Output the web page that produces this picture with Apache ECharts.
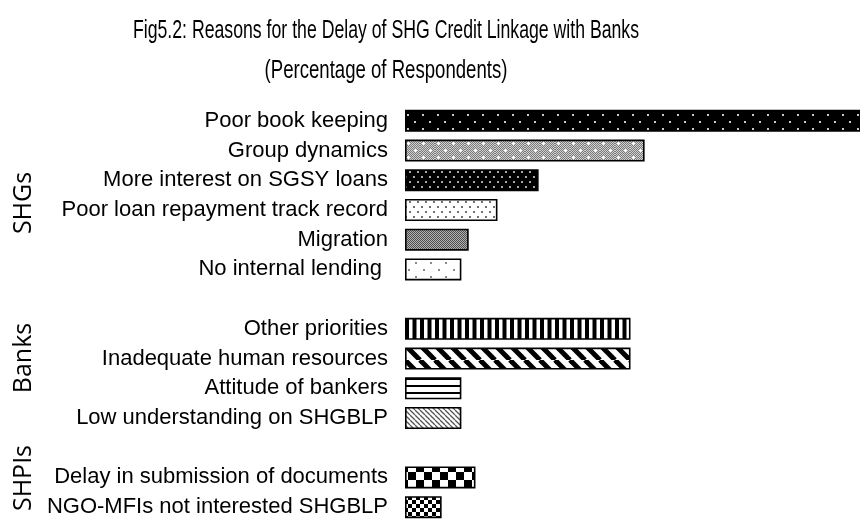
<!DOCTYPE html>
<html>
<head>
<meta charset="utf-8">
<script src="https://cdn.jsdelivr.net/npm/echarts@6/dist/echarts.min.js"></script>
<style>
  html, body { margin: 0; padding: 0; background: #fff; }
  #chart { width: 860px; height: 522px; }
</style>
</head>
<body>
<div id="chart"></div>
<script>
// Reasons for delay, grouped by respondent type (blank rows separate the groups)
const categories = [
  'Poor book keeping',
  'Group dynamics',
  'More interest on SGSY loans',
  'Poor loan repayment track record',
  'Migration',
  'No internal lending ',
  '',
  'Other priorities',
  'Inadequate human resources',
  'Attitude of bankers',
  'Low understanding on SHGBLP',
  '',
  'Delay in submission of documents',
  'NGO-MFIs not interested SHGBLP'
];

// Percentage of respondents
const values = [85, 42.5, 23.7, 16.4, 11.3, 10, null, 40, 40, 10, 10, null, 12.5, 6.5];

// Group names shown on the left
const groups = ['SHGs', 'Banks', 'SHPIs'];

const titleLines = [
  'Fig5.2: Reasons for the Delay of SHG Credit Linkage with Banks',
  '(Percentage of Respondents)'
];

// ---- fill patterns ----
function tile(w, h, draw) {
  const c = document.createElement('canvas');
  c.width = w; c.height = h;
  const g = c.getContext('2d');
  draw(g, w, h);
  return c;
}
function dots(bg, fg, w, h, pts, s) {
  return tile(w, h, (g) => {
    g.fillStyle = bg; g.fillRect(0, 0, w, h);
    g.fillStyle = fg;
    pts.forEach(p => g.fillRect(p[0], p[1], s, s));
  });
}
function checker(a, b, s) {
  return tile(s * 2, s * 2, (g) => {
    g.fillStyle = a; g.fillRect(0, 0, s * 2, s * 2);
    g.fillStyle = b; g.fillRect(0, 0, s, s); g.fillRect(s, s, s, s);
  });
}
function diag(bg, fg, w, lw) {
  return tile(w, w, (g) => {
    g.fillStyle = bg; g.fillRect(0, 0, w, w);
    g.strokeStyle = fg; g.lineWidth = lw;
    for (let k = -1; k <= 1; k++) {
      g.beginPath();
      g.moveTo(k * w, 0);
      g.lineTo(k * w + w, w);
      g.stroke();
    }
  });
}

const patterns = [
  dots('#000', '#c8c8c8', 15, 14, [[2, 2], [9, 9]], 2),
  tile(15, 14, (g) => {
    for (let y = 0; y < 14; y++) for (let x = 0; x < 15; x++) {
      g.fillStyle = (x + y) % 2 ? '#7a7a7a' : '#d0d0d0';
      g.fillRect(x, y, 1, 1);
    }
    g.fillStyle = '#fff';
    [[3, 3], [10, 10]].forEach(p => {
      g.fillRect(p[0] - 1, p[1], 3, 1); g.fillRect(p[0], p[1] - 1, 1, 3);
    });
  }),
  dots('#000', '#a8a8a8', 8, 10, [[1, 1], [5, 6]], 2),
  dots('#fff', '#707070', 8, 10, [[1, 1], [5, 6]], 2),
  checker('#b0b0b0', '#505050', 1),
  dots('#fff', '#8a8a8a', 15, 14, [[3, 3], [10, 10]], 2),
  tile(15, 1, (g) => {
    g.fillStyle = '#fff'; g.fillRect(0, 0, 15, 1);
    g.fillStyle = '#000'; g.fillRect(0, 0, 4, 1); g.fillRect(7.5, 0, 4, 1);
  }),
  diag('#fff', '#000', 15, 5),
  tile(1, 7, (g) => {
    g.fillStyle = '#fff'; g.fillRect(0, 0, 1, 7);
    g.fillStyle = '#000'; g.fillRect(0, 0, 1, 2);
  }),
  diag('#fff', '#555', 5, 1.3),
  checker('#fff', '#000', 8),
  checker('#fff', '#000', 4)
];

const chart = echarts.init(document.getElementById('chart'), null, { renderer: 'canvas' });

let pi = 0;
const barData = values.map((v) => {
  if (v === null) return '-';
  const p = patterns[pi++];
  return {
    value: v,
    itemStyle: {
      color: { image: p, repeat: 'repeat' },
      borderColor: '#000',
      borderWidth: 1.6
    }
  };
});

const groupPos = [[24, 203], [24, 358], [24, 478]];
// title set in a compressed face: regular sans squeezed horizontally
const titleFont = '26px "Liberation Sans", Arial, sans-serif';
const titleSqueeze = [0.68, 0.715];

chart.setOption({
  animation: false,
  backgroundColor: '#fff',
  grid: { left: 405, top: 106, right: 0, height: 420 },
  xAxis: {
    type: 'value', min: 0, max: 80.7, show: false
  },
  yAxis: {
    type: 'category',
    inverse: true,
    data: categories,
    axisLine: { show: false },
    axisTick: { show: false },
    splitLine: { show: false },
    axisLabel: {
      margin: 17,
      color: '#000',
      fontSize: 22,
      fontFamily: 'Liberation Sans',
      padding: [13, 0, 0, 0]
    }
  },
  series: [{
    type: 'bar',
    data: barData,
    barWidth: 22,
    clip: false
  }],
  graphic: titleLines.map((line, i) => ({
    type: 'text', x: 386, y: 31 + i * 40, scaleX: titleSqueeze[i],
    style: { text: line, textAlign: 'center', textVerticalAlign: 'middle',
      font: titleFont, fill: '#000' }
  })).concat(groups.map((name, i) => ({
    type: 'text', x: groupPos[i][0], y: groupPos[i][1], rotation: Math.PI / 2,
    style: { text: name, textAlign: 'center', textVerticalAlign: 'middle',
      font: '25px "Open Sans"', fill: '#000' }
  })))
});
</script>
</body>
</html>
